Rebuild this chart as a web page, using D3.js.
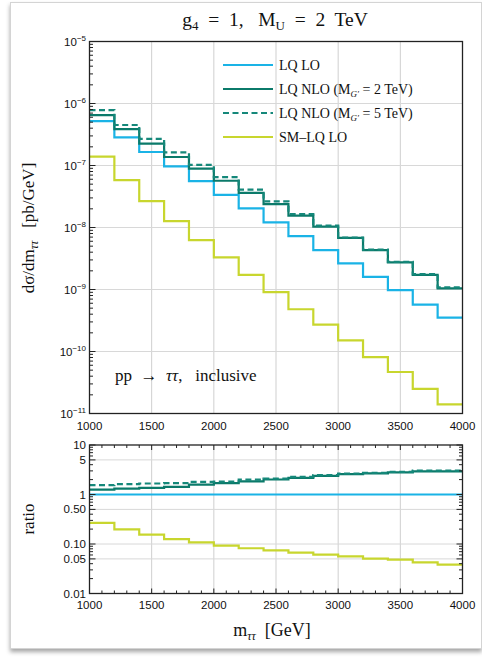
<!DOCTYPE html>
<html><head><meta charset="utf-8">
<script src="https://cdn.jsdelivr.net/npm/d3@7"></script>
<style>body{margin:0;background:#fff}svg{display:block}text{white-space:pre}</style>
</head><body><svg id="c" width="482" height="661"></svg>
<script>
// ---- data ----
const binEdges = [1000,1200,1400,1600,1800,2000,2200,2400,2600,2800,3000,3200,3400,3600,3800,4000];
const lqLO   = [5.18e-7,2.85e-7,1.65e-7,9.7e-8,5.6e-8,3.35e-8,2.03e-8,1.21e-8,7.26e-9,4.32e-9,2.63e-9,1.6e-9,9.8e-10,5.7e-10,3.53e-10];
const lqNLO2 = [6.47e-7,3.85e-7,2.25e-7,1.37e-7,8.9e-8,5.68e-8,3.63e-8,2.39e-8,1.55e-8,1.03e-8,6.82e-9,4.31e-9,2.73e-9,1.72e-9,1.04e-9];
const lqNLO5 = [7.8e-7,4.5e-7,2.68e-7,1.63e-7,1.02e-7,6.5e-8,4.07e-8,2.63e-8,1.65e-8,1.07e-8,6.9e-9,4.4e-9,2.78e-9,1.77e-9,1.08e-9];
const smLQ   = [1.39e-7,5.83e-8,2.67e-8,1.27e-8,6.25e-9,3.3e-9,1.72e-9,9.1e-10,4.8e-10,2.72e-10,1.51e-10,8.1e-11,4.67e-11,2.5e-11,1.4e-11];
const ratioLO   = [1,1,1,1,1,1,1,1,1,1,1,1,1,1,1];
const ratioNLO2 = [1.26,1.32,1.36,1.43,1.59,1.69,1.84,2.01,2.17,2.38,2.58,2.66,2.79,2.92,2.92];
const ratioNLO5 = [1.54,1.62,1.67,1.69,1.80,1.83,2.0,2.1,2.27,2.46,2.63,2.74,2.87,3.05,3.05];
const ratioSM   = [0.266,0.198,0.155,0.126,0.108,0.093,0.082,0.0745,0.067,0.061,0.0564,0.0506,0.0483,0.0427,0.0383];
const xTicks = [1000,1500,2000,2500,3000,3500,4000];
const topDecades = [-11,-10,-9,-8,-7,-6,-5];
const ratioTicks = [10,5,1,0.5,0.1,0.05,0.01];
const ratioTickLabels = ["10","5","1","0.50","0.10","0.05","0.01"];

const C_LO = "#1ab3e6", C_NLO = "#0b7a6a", C_NLO5 = "#15887a", C_SM = "#c8d62e";
const series = [
  {name:"LQ LO", top:lqLO, ratio:ratioLO, color:C_LO, dash:null},
  {name:"LQ NLO (M_G′ = 2 TeV)", top:lqNLO2, ratio:ratioNLO2, color:C_NLO, dash:null},
  {name:"LQ NLO (M_G′ = 5 TeV)", top:lqNLO5, ratio:ratioNLO5, color:C_NLO5, dash:"6,3.5"},
  {name:"SM–LQ LO", top:smLQ, ratio:ratioSM, color:C_SM, dash:null}
];

const svg = d3.select("#c");
const SERIF = "'Liberation Serif','DejaVu Serif',serif";
const SANS = "'Liberation Sans',Arial,sans-serif";

// card
const defs = svg.append("defs");
const f = defs.append("filter").attr("id","sh").attr("x","-5%").attr("y","-5%").attr("width","110%").attr("height","112%");
f.append("feDropShadow").attr("dx",0).attr("dy",3).attr("stdDeviation",2).attr("flood-color","#000").attr("flood-opacity",0.35);
svg.append("rect").attr("x",10.5).attr("y",2.5).attr("width",471).attr("height",646)
  .attr("fill","#fff").attr("stroke","#d4d4d4").attr("filter","url(#sh)");

const x = d3.scaleLinear().domain([1000,4000]).range([89.5,462.5]);
const yT = d3.scaleLog().domain([1e-11,1e-5]).range([413.5,41.5]);
const yR = d3.scaleLog().domain([0.01,10]).range([593.5,445]);

function panel(y, gridY) {
  const g = svg.append("g");
  const [y0,y1] = y.range();
  xTicks.slice(1,-1).forEach(v => g.append("line").attr("x1",x(v)).attr("x2",x(v)).attr("y1",y1).attr("y2",y0).attr("stroke","#cfcfcf").attr("stroke-width",1));
  gridY.forEach(v => g.append("line").attr("x1",x.range()[0]).attr("x2",x.range()[1]).attr("y1",y(v)).attr("y2",y(v)).attr("stroke","#d8d8d8").attr("stroke-width",1));
}
function frame(y, yMaj, yMin, allSides) {
  const g = svg.append("g").attr("stroke","#222").attr("stroke-width",1);
  const [y0,y1] = y.range(); const [x0,x1] = x.range();
  if (allSides) {
    for (let v=1000; v<=4000; v+=100) {
      const L = v%500===0 ? 5 : 3;
      g.append("line").attr("x1",x(v)).attr("x2",x(v)).attr("y1",y0).attr("y2",y0-L);
      g.append("line").attr("x1",x(v)).attr("x2",x(v)).attr("y1",y1).attr("y2",y1+L);
    }
  }
  yMaj.forEach(v => { g.append("line").attr("x1",x0).attr("x2",x0+6).attr("y1",y(v)).attr("y2",y(v));
                      if (allSides) g.append("line").attr("x1",x1).attr("x2",x1-6).attr("y1",y(v)).attr("y2",y(v)); });
  yMin.forEach(v => { g.append("line").attr("x1",x0).attr("x2",x0+3.5).attr("y1",y(v)).attr("y2",y(v));
                      if (allSides) g.append("line").attr("x1",x1).attr("x2",x1-3.5).attr("y1",y(v)).attr("y2",y(v)); });
  g.append("rect").attr("x",x0).attr("y",y1).attr("width",x1-x0).attr("height",y0-y1).attr("fill","none").attr("stroke","#222").attr("stroke-width",1.3);
}
function minorLog(lo, hi, majors) {
  const out=[];
  for (let e=Math.floor(Math.log10(lo)); e<Math.log10(hi); e++)
    for (let k=1;k<10;k++){ const v=k*Math.pow(10,e); if(v>=lo&&v<=hi&&!majors.some(m=>Math.abs(m-v)/v<1e-6)) out.push(v);}
  return out;
}

const topMaj = topDecades.map(e=>Math.pow(10,e));
panel(yT, topMaj.slice(1,-1));
panel(yR, [5,1,0.5,0.1,0.05]);

const line = (y) => d3.line().x(d=>x(d[0])).y(d=>y(d[1])).curve(d3.curveStepAfter);
function pts(vals){ const p = vals.map((v,i)=>[binEdges[i],v]); p.push([binEdges[binEdges.length-1], vals[vals.length-1]]); return p; }

[3,0,1,2].forEach(i => {
  const s = series[i];
  svg.append("path").attr("d", line(yT)(pts(s.top))).attr("fill","none").attr("stroke",s.color)
    .attr("stroke-width",2.2).attr("stroke-dasharray",s.dash);
  svg.append("path").attr("d", line(yR)(pts(s.ratio))).attr("fill","none").attr("stroke",s.color)
    .attr("stroke-width",2.2).attr("stroke-dasharray",s.dash);
});

frame(yT, topMaj, minorLog(1e-11,1e-5,topMaj), false);
frame(yR, ratioTicks, minorLog(0.01,10,ratioTicks), true);

// tick labels
const tl = svg.append("g").attr("font-family",SANS).attr("font-size",11.5).attr("fill","#111");
xTicks.forEach(v => {
  tl.append("text").attr("x",x(v)).attr("y",430).attr("text-anchor","middle").text(v);
  tl.append("text").attr("x",x(v)).attr("y",609).attr("text-anchor","middle").text(v);
});
topDecades.forEach(e => {
  const t = tl.append("text").attr("x",86).attr("y",yT(Math.pow(10,e))+4).attr("text-anchor","end");
  t.append("tspan").text("10");
  t.append("tspan").attr("dy",-5).attr("font-size",8).text("−"+Math.abs(e));
});
ratioTicks.forEach((v,i) => {
  tl.append("text").attr("x",86).attr("y",yR(v)+4).attr("text-anchor","end").text(ratioTickLabels[i]);
});

// title
const tt = svg.append("text").attr("x",275).attr("y",26).attr("text-anchor","middle").attr("font-family",SERIF).attr("font-size",19.5).attr("fill","#111");
tt.append("tspan").text("g");
tt.append("tspan").attr("font-size",13).attr("dy",4).text("4");
tt.append("tspan").attr("dy",-4).text("  =  1,   M");
tt.append("tspan").attr("font-size",13).attr("dy",4).text("U");
tt.append("tspan").attr("dy",-4).text("  =  2  TeV");

// x axis title
const xt = svg.append("text").attr("x",272).attr("y",636).attr("text-anchor","middle").attr("font-family",SERIF).attr("font-size",18).attr("fill","#111");
xt.append("tspan").text("m");
xt.append("tspan").attr("font-size",12).attr("font-style","italic").attr("dy",4).text("ττ");
xt.append("tspan").attr("dy",-4).text("  [GeV]");

// y titles
const yt = svg.append("text").attr("transform","translate(34,228) rotate(-90)").attr("text-anchor","middle").attr("font-family",SERIF).attr("font-size",17).attr("fill","#111");
yt.append("tspan").text("dσ/dm");
yt.append("tspan").attr("font-size",12).attr("font-style","italic").attr("dy",4).text("ττ");
yt.append("tspan").attr("dy",-4).text("   [pb/GeV]");
svg.append("text").attr("transform","translate(34,519) rotate(-90)").attr("text-anchor","middle").attr("font-family",SERIF).attr("font-size",17).attr("fill","#111").text("ratio");

// process label
const pl = svg.append("text").attr("x",115).attr("y",381).attr("font-family",SERIF).attr("font-size",17).attr("fill","#111");
pl.append("tspan").text("pp  →  ");
pl.append("tspan").attr("font-style","italic").text("ττ");
pl.append("tspan").text(",   inclusive");

// legend
const legY = [65,89,113,137];
series.forEach((s,i) => {
  svg.append("line").attr("x1",223).attr("x2",273).attr("y1",legY[i]).attr("y2",legY[i]).attr("stroke",s.color).attr("stroke-width",2.2).attr("stroke-dasharray",s.dash);
  const t = svg.append("text").attr("x",279).attr("y",legY[i]+5).attr("font-family",SERIF).attr("font-size",14).attr("fill","#111");
  const m = s.name.match(/^(.*)\(M_G′ = (.*)\)$/);
  if (m) {
    t.append("tspan").text(m[1] + "(M");
    t.append("tspan").attr("font-size",9).attr("font-style","italic").attr("dy",3).text("G′");
    t.append("tspan").attr("dy",-3).text(" = " + m[2] + ")");
  } else t.text(s.name);
});
</script></body></html>
